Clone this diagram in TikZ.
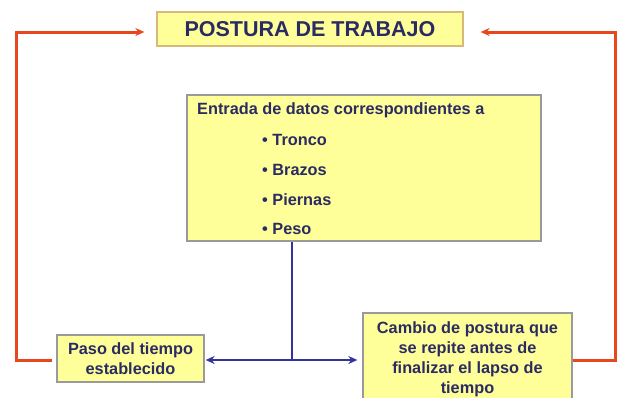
\documentclass[tikz,border=0pt]{standalone}
\usepackage{fontspec}
\setmainfont{Liberation Sans}
\usetikzlibrary{arrows.meta}
\definecolor{boxfill}{HTML}{FFFF99}
\definecolor{boxline}{HTML}{9A9A9A}
\definecolor{titleline}{HTML}{D9B97A}
\definecolor{txt}{HTML}{2B2B63}
\definecolor{redl}{HTML}{E8471E}
\definecolor{bluel}{HTML}{33339A}
\tikzset{
  ybox/.style={draw=boxline, line width=1.3pt, fill=boxfill, inner sep=0pt, text=txt, align=center,
    font=\bfseries\fontsize{16.3}{20}\selectfont},
  txtline/.style={anchor=base west, inner sep=0pt, text=txt, font=\bfseries\fontsize{16.3}{20}\selectfont},
  redarrow/.style={draw=redl, line width=3pt, -{Stealth[length=9pt,width=8pt]}},
  bluearrow/.style={draw=bluel, line width=2.8pt, -{Stealth[length=9pt,width=8pt]}},
  blueline/.style={draw=bluel, line width=2.8pt}
}
\begin{document}
\begin{tikzpicture}[x=1pt,y=-1pt]
\useasboundingbox (0,0) rectangle (619,397);
\clip (0,0) rectangle (619,397);
% title
\node[ybox, draw=titleline, minimum width=306pt, minimum height=34pt,
      font=\bfseries\fontsize{21.5}{24}\selectfont] (title) at (310,29) {POSTURA DE TRABAJO};
% middle box
\node[ybox, minimum width=354pt, minimum height=146pt] (mid) at (364,168) {};
\node[txtline] (l0) at (197,114) {Entrada de datos correspondientes a};
\node[txtline] (l1) at (262,145) {• Tronco};
\node[txtline] (l2) at (262,175) {• Brazos};
\node[txtline] (l3) at (262,205) {• Piernas};
\node[txtline] (l4) at (262,234) {• Peso};
% bottom boxes
\node[ybox, minimum width=147pt, minimum height=47pt] (paso) at (130.5,358.5)
  {Paso del tiempo\\establecido};
\node[ybox, minimum width=209pt, minimum height=92pt] (cambio) at (467.5,359)
  {Cambio de postura que\\se repite antes de\\finalizar el lapso de\\tiempo};
% junction
\coordinate (j) at (292,360);
\coordinate (lc) at (16,360);
\coordinate (rc) at (615,360);
% blue connectors
\draw[blueline] (mid.south -| j) -- (j);
\draw[bluearrow, shorten >=1pt] (j) -- (j -| paso.east);
\draw[bluearrow, shorten >=5pt] (j) -- (j -| cambio.west);
% red feedback arrows
\draw[redarrow, shorten >=12pt, shorten <=4pt] (paso.west |- lc) -- (lc) |- ([yshift=-3pt]title.west);
\draw[redarrow, shorten >=17pt] (cambio.east |- rc) -- (rc) |- ([yshift=-3pt]title.east);
\end{tikzpicture}
\end{document}
